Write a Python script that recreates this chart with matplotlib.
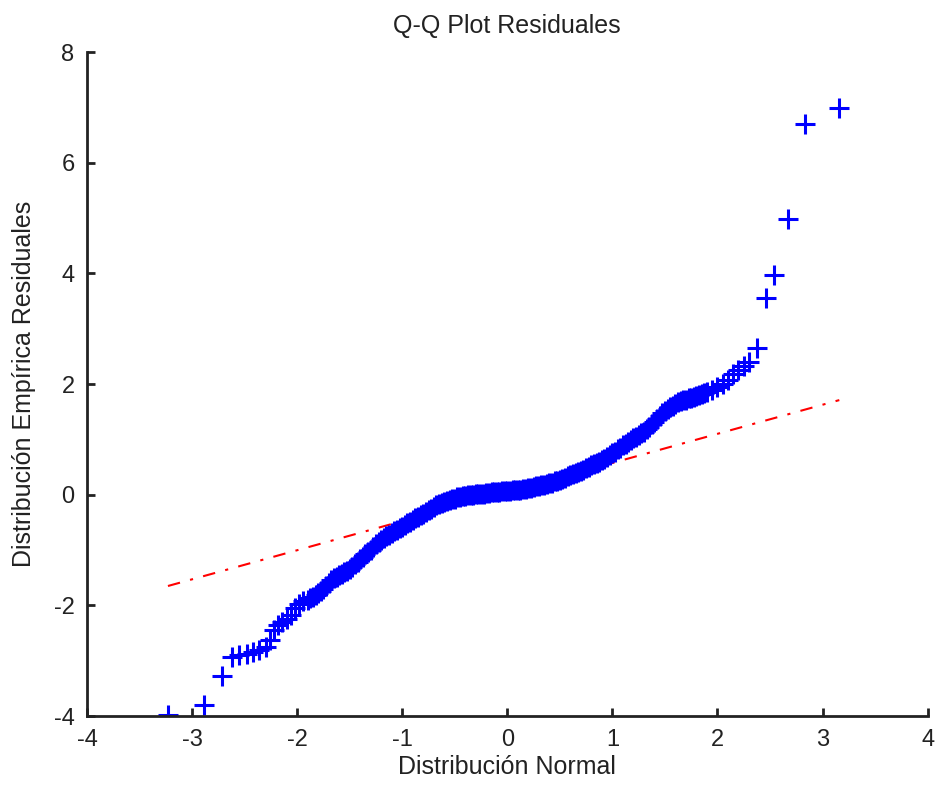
import matplotlib
matplotlib.use('Agg')
import matplotlib.pyplot as plt

plt.rcParams['font.family'] = ['Liberation Sans', 'DejaVu Sans']
plt.rcParams['axes.unicode_minus'] = False

# cuantiles normales (x) y residuales ordenados (y), leidos del grafico
# cola izquierda (puntos sueltos)
x_left = [-3.23, -2.89, -2.72, -2.62, -2.55, -2.48, -2.42, -2.36, -2.30, -2.26,
          -2.22, -2.18, -2.14, -2.10, -2.06, -2.02, -1.98, -1.94]
y_left = [-3.98, -3.80, -3.28, -2.94, -2.90, -2.88, -2.85, -2.80, -2.75, -2.62,
          -2.45, -2.35, -2.30, -2.25, -2.18, -2.05, -1.98, -1.93]

# zona central (muy densa)
x_mid = [-1.900, -1.875, -1.850, -1.825, -1.800, -1.775, -1.750, -1.725, -1.700, -1.675,
         -1.650, -1.625, -1.600, -1.575, -1.550, -1.525, -1.500, -1.475, -1.450, -1.425,
         -1.400, -1.375, -1.350, -1.325, -1.300, -1.275, -1.250, -1.225, -1.200, -1.175,
         -1.150, -1.125, -1.100, -1.075, -1.050, -1.025, -1.000, -0.975, -0.950, -0.925,
         -0.900, -0.875, -0.850, -0.825, -0.800, -0.775, -0.750, -0.725, -0.700, -0.675,
         -0.650, -0.625, -0.600, -0.575, -0.550, -0.525, -0.500, -0.475, -0.450, -0.425,
         -0.400, -0.375, -0.350, -0.325, -0.300, -0.275, -0.250, -0.225, -0.200, -0.175,
         -0.150, -0.125, -0.100, -0.075, -0.050, -0.025, 0.000, 0.025, 0.050, 0.075,
         0.100, 0.125, 0.150, 0.175, 0.200, 0.225, 0.250, 0.275, 0.300, 0.325,
         0.350, 0.375, 0.400, 0.425, 0.450, 0.475, 0.500, 0.525, 0.550, 0.575,
         0.600, 0.625, 0.650, 0.675, 0.700, 0.725, 0.750, 0.775, 0.800, 0.825,
         0.850, 0.875, 0.900, 0.925, 0.950, 0.975, 1.000, 1.025, 1.050, 1.075,
         1.100, 1.125, 1.150, 1.175, 1.200, 1.225, 1.250, 1.275, 1.300, 1.325,
         1.350, 1.375, 1.400, 1.425, 1.450, 1.475, 1.500, 1.525, 1.550, 1.575,
         1.600, 1.625, 1.650, 1.675, 1.700, 1.725, 1.750, 1.775, 1.800, 1.825,
         1.850, 1.875]
y_mid = [-1.90, -1.87, -1.85, -1.81, -1.78, -1.74, -1.70, -1.65, -1.60, -1.55,
         -1.50, -1.48, -1.46, -1.43, -1.40, -1.37, -1.34, -1.30, -1.25, -1.21,
         -1.17, -1.12, -1.08, -1.04, -1.00, -0.95, -0.90, -0.86, -0.82, -0.78,
         -0.75, -0.72, -0.69, -0.66, -0.63, -0.60, -0.58, -0.55, -0.52, -0.49,
         -0.46, -0.43, -0.40, -0.37, -0.34, -0.31, -0.28, -0.25, -0.22, -0.19,
         -0.17, -0.15, -0.13, -0.11, -0.10, -0.08, -0.07, -0.05, -0.04, -0.03,
         -0.02, -0.01, 0.00, 0.00, 0.01, 0.01, 0.02, 0.02, 0.03, 0.03,
         0.04, 0.04, 0.05, 0.05, 0.06, 0.06, 0.07, 0.07, 0.08, 0.08,
         0.09, 0.09, 0.10, 0.11, 0.12, 0.13, 0.14, 0.15, 0.16, 0.17,
         0.18, 0.19, 0.21, 0.22, 0.24, 0.25, 0.27, 0.29, 0.31, 0.33,
         0.35, 0.37, 0.39, 0.41, 0.43, 0.45, 0.48, 0.50, 0.53, 0.55,
         0.58, 0.60, 0.63, 0.65, 0.68, 0.71, 0.75, 0.78, 0.82, 0.85,
         0.89, 0.92, 0.96, 0.99, 1.03, 1.05, 1.08, 1.11, 1.14, 1.18,
         1.22, 1.27, 1.32, 1.37, 1.42, 1.47, 1.52, 1.55, 1.58, 1.61,
         1.64, 1.67, 1.69, 1.71, 1.72, 1.74, 1.75, 1.77, 1.78, 1.80,
         1.82, 1.84]

# cola derecha (puntos sueltos)
x_right = [1.90, 1.95, 2.00, 2.05, 2.10, 2.15, 2.20, 2.25, 2.30, 2.38,
           2.46, 2.54, 2.67, 2.83, 3.16]
y_right = [1.86, 1.90, 1.95, 2.00, 2.08, 2.18, 2.25, 2.32, 2.40, 2.65,
           3.55, 3.97, 4.98, 6.70, 6.99]

# linea de referencia (cuartiles extendida al rango)
line_x = [-3.23, 3.16]
line_y = [-1.65, 1.71]

fig = plt.figure(figsize=(9.36, 7.89), dpi=100)
ax = fig.add_axes([0.093, 0.0925, 0.898, 0.8415])

ax.plot(line_x, line_y, color='red', ls=(0, (6, 5, 1.5, 5)), lw=1.5, zorder=1)

xs = x_left + x_mid + x_right
ys = y_left + y_mid + y_right
ax.plot(xs, ys, ls='none', marker='+', markersize=14, mew=2.2, color='#0000ff', zorder=2)

ax.set_xlim(-4, 4)
ax.set_ylim(-4, 8)
ax.set_xticks(range(-4, 5))
ax.set_yticks(range(-4, 9, 2))

for s in ['top', 'right']:
    ax.spines[s].set_visible(False)
for s in ['left', 'bottom']:
    ax.spines[s].set_linewidth(2)
    ax.spines[s].set_color('#222222')
ax.tick_params(direction='in', length=6, width=2, color='#222222',
               labelsize=17, labelcolor='#222222', pad=9)

ax.set_title('Q-Q Plot Residuales', fontsize=18, color='#222222', pad=14)
ax.set_xlabel('Distribución Normal', fontsize=18, color='#222222', labelpad=3)
ax.set_ylabel('Distribución Empírica Residuales', fontsize=18, color='#222222', labelpad=13)

fig.savefig('out.png', dpi=100)
